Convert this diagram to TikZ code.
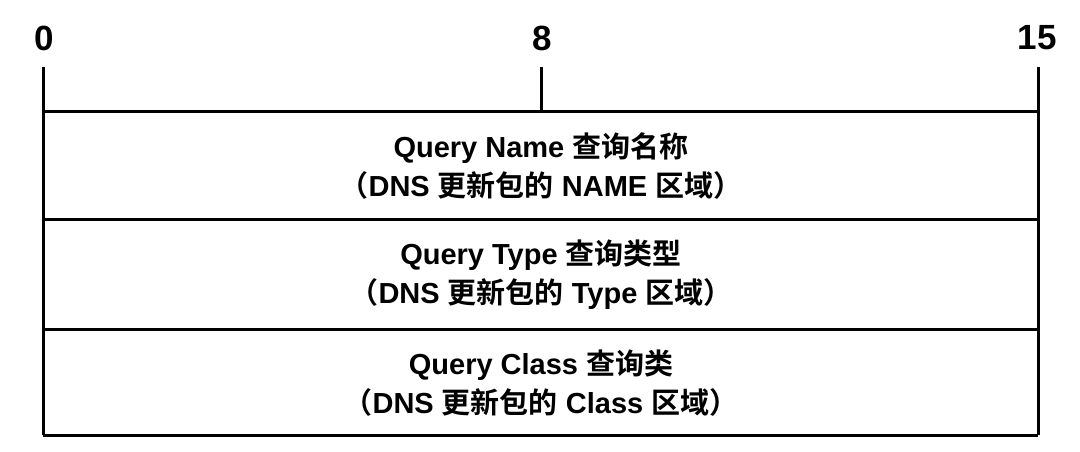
\documentclass[tikz,border=0pt]{standalone}
\usepackage{fontspec}
\setmainfont{Liberation Sans}
\newfontfamily\cjk{Noto Sans CJK SC}[BoldFont={Noto Sans CJK SC Bold}]
\usetikzlibrary{calc}

\tikzset{
  bitnum/.style={font=\bfseries\fontsize{35}{40}\selectfont, inner sep=0pt},
  fieldtxt/.style={font=\bfseries\fontsize{29}{39}\selectfont, align=center, inner sep=0pt},
}

\begin{document}
\begin{tikzpicture}[x=1pt,y=-1pt,line width=3pt]
\useasboundingbox (0,0) rectangle (1080,451);

\coordinate (t0) at (43,67);
\coordinate (t8) at (541,67);
\coordinate (t15) at (1038,67);
\coordinate (tl) at (43,111);
\coordinate (tm) at (541,111);
\coordinate (tr) at (1038,111);
\coordinate (l1) at (43,219);
\coordinate (r1) at (1038,219);
\coordinate (l2) at (43,329);
\coordinate (r2) at (1038,329);
\coordinate (bl) at (43,435);
\coordinate (br) at (1038,435);

\node[bitnum] (n0) at (44,38) {0};
\node[bitnum] (n8) at (542,38) {8};
\node[bitnum] (n15) at (1037,38) {15};

\draw (t0)--(bl);
\draw (t15)--(br);
\draw (t8)--(tm);
\draw (tl)--(tr);
\draw (l1)--(r1);
\draw (l2)--(r2);
\draw (bl)--(br);

\node[fieldtxt] (qname) at (541,166) {Query Name {\cjk 查询名称}\\{\cjk （}DNS {\cjk 更新包的} NAME {\cjk 区域）}};
\node[fieldtxt] (qtype) at (541,275) {Query Type {\cjk 查询类型}\\{\cjk （}DNS {\cjk 更新包的} Type {\cjk 区域）}};
\node[fieldtxt] (qclass) at (541,383) {Query Class {\cjk 查询类}\\{\cjk （}DNS {\cjk 更新包的} Class {\cjk 区域）}};

\end{tikzpicture}
\end{document}
